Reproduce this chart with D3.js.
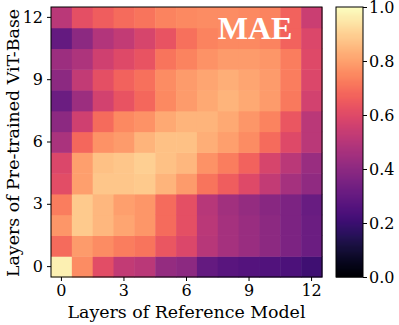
<!DOCTYPE html>
<meta charset="utf-8">
<style>
    body { margin: 0; background: #fff; }
    svg text { font-family: "DejaVu Serif", serif; }
    .axis path { stroke: #000; }
    .axis line { stroke: #000; }
    .axis text { fill: #000; font-size: 16px; }
</style>
<svg width="399" height="325"></svg>
<script src="https://d3js.org/d3.v7.min.js"></script>
<script>
// layers of the reference model (columns) and of ViT-Base (rows)
var layers = d3.range(13);
var ticks = [0, 3, 6, 9, 12];
var cbTicks = [0, 0.2, 0.4, 0.6, 0.8, 1.0];

// similarity per row (pre-trained ViT-Base layer 0..12), across reference layers 0..12
var row0  = [0.97, 0.76, 0.61, 0.53, 0.51, 0.42, 0.40, 0.30, 0.27, 0.26, 0.25, 0.24, 0.21];
var row1  = [0.69, 0.79, 0.76, 0.73, 0.71, 0.64, 0.59, 0.50, 0.46, 0.43, 0.40, 0.36, 0.32];
var row2  = [0.78, 0.89, 0.85, 0.81, 0.78, 0.69, 0.62, 0.51, 0.46, 0.43, 0.40, 0.36, 0.32];
var row3  = [0.73, 0.89, 0.85, 0.80, 0.78, 0.69, 0.62, 0.50, 0.45, 0.42, 0.39, 0.36, 0.31];
var row4  = [0.61, 0.80, 0.88, 0.88, 0.89, 0.84, 0.79, 0.71, 0.66, 0.60, 0.53, 0.46, 0.41];
var row5  = [0.59, 0.80, 0.87, 0.88, 0.90, 0.87, 0.85, 0.77, 0.73, 0.67, 0.58, 0.51, 0.43];
var row6  = [0.47, 0.68, 0.77, 0.79, 0.84, 0.87, 0.87, 0.83, 0.80, 0.76, 0.69, 0.60, 0.51];
var row7  = [0.40, 0.56, 0.69, 0.75, 0.77, 0.82, 0.84, 0.84, 0.82, 0.78, 0.74, 0.64, 0.51];
var row8  = [0.32, 0.44, 0.57, 0.63, 0.68, 0.75, 0.79, 0.82, 0.84, 0.82, 0.79, 0.72, 0.57];
var row9  = [0.40, 0.53, 0.62, 0.67, 0.70, 0.76, 0.79, 0.81, 0.83, 0.81, 0.79, 0.73, 0.59];
var row10 = [0.44, 0.48, 0.56, 0.60, 0.63, 0.71, 0.74, 0.77, 0.79, 0.79, 0.78, 0.73, 0.60];
var row11 = [0.30, 0.40, 0.49, 0.53, 0.58, 0.63, 0.70, 0.74, 0.75, 0.75, 0.74, 0.67, 0.59];
var row12 = [0.51, 0.62, 0.66, 0.69, 0.71, 0.74, 0.75, 0.76, 0.76, 0.75, 0.74, 0.67, 0.55];
var rows = [row0, row1, row2, row3, row4, row5, row6, row7, row8, row9, row10, row11, row12];

var svg = d3.select("svg"),
    plotL = 51, plotR = 322, plotT = 7, plotB = 277;

var x = d3.scaleBand().domain(layers).range([plotL, plotR]);
var y = d3.scaleBand().domain(layers).range([plotB, plotT]);
var color = d3.scaleSequential(d3.interpolateMagma).domain([0, 1]);

var cells = [];
rows.forEach(function(r, i) {
    r.forEach(function(v, j) { cells.push({row: i, col: j, v: v}); });
});

svg.append("g")
    .selectAll("rect")
    .data(cells)
    .enter().append("rect")
    .attr("x", function(d) { return x(d.col); })
    .attr("y", function(d) { return y(d.row); })
    .attr("width", x.bandwidth() + 0.5)
    .attr("height", y.bandwidth() + 0.5)
    .attr("fill", function(d) { return color(d.v); });

svg.append("rect")
    .attr("x", plotL).attr("y", plotT)
    .attr("width", plotR - plotL).attr("height", plotB - plotT)
    .attr("fill", "none").attr("stroke", "#000").attr("stroke-width", 1);

svg.append("g")
    .attr("class", "axis")
    .attr("transform", "translate(0," + plotB + ")")
    .call(d3.axisBottom(x).tickValues(ticks).tickSize(4).tickPadding(4))
    .select(".domain").remove();

svg.append("g")
    .attr("class", "axis")
    .attr("transform", "translate(" + plotL + ",0)")
    .call(d3.axisLeft(y).tickValues(ticks).tickSize(4).tickPadding(4))
    .select(".domain").remove();

svg.append("text")
    .attr("x", (plotL + plotR) / 2)
    .attr("y", 318)
    .attr("text-anchor", "middle")
    .style("font-size", "17.4px")
    .text("Layers of Reference Model");

svg.append("text")
    .attr("transform", "translate(19," + ((plotT + plotB) / 2 + 1) + ") rotate(-90)")
    .attr("text-anchor", "middle")
    .style("font-size", "17.4px")
    .text("Layers of Pre-trained ViT-Base");

svg.append("text")
    .attr("x", 255)
    .attr("y", 39)
    .attr("text-anchor", "middle")
    .attr("fill", "#fff")
    .style("font-family", "'Liberation Serif', 'Times New Roman', serif")
    .style("font-weight", "bold")
    .style("font-size", "32px")
    .text("MAE");

// colorbar
var cbL = 336, cbR = 363;
var cb = d3.scaleLinear().domain([0, 1]).range([plotB, plotT]);
var steps = d3.range(0, 1, 1 / 270);

svg.append("g")
    .selectAll("rect")
    .data(steps)
    .enter().append("rect")
    .attr("x", cbL)
    .attr("y", function(d) { return cb(d + 1 / 270); })
    .attr("width", cbR - cbL)
    .attr("height", cb(0) - cb(1 / 270) + 0.5)
    .attr("fill", function(d) { return color(d + 0.5 / 270); });

svg.append("rect")
    .attr("x", cbL).attr("y", plotT)
    .attr("width", cbR - cbL).attr("height", plotB - plotT)
    .attr("fill", "none").attr("stroke", "#000").attr("stroke-width", 1);

svg.append("g")
    .attr("class", "axis")
    .attr("transform", "translate(" + cbR + ",0)")
    .call(d3.axisRight(cb).tickValues(cbTicks).tickFormat(d3.format(".1f")).tickSize(4).tickPadding(2))
    .select(".domain").remove();
</script>
